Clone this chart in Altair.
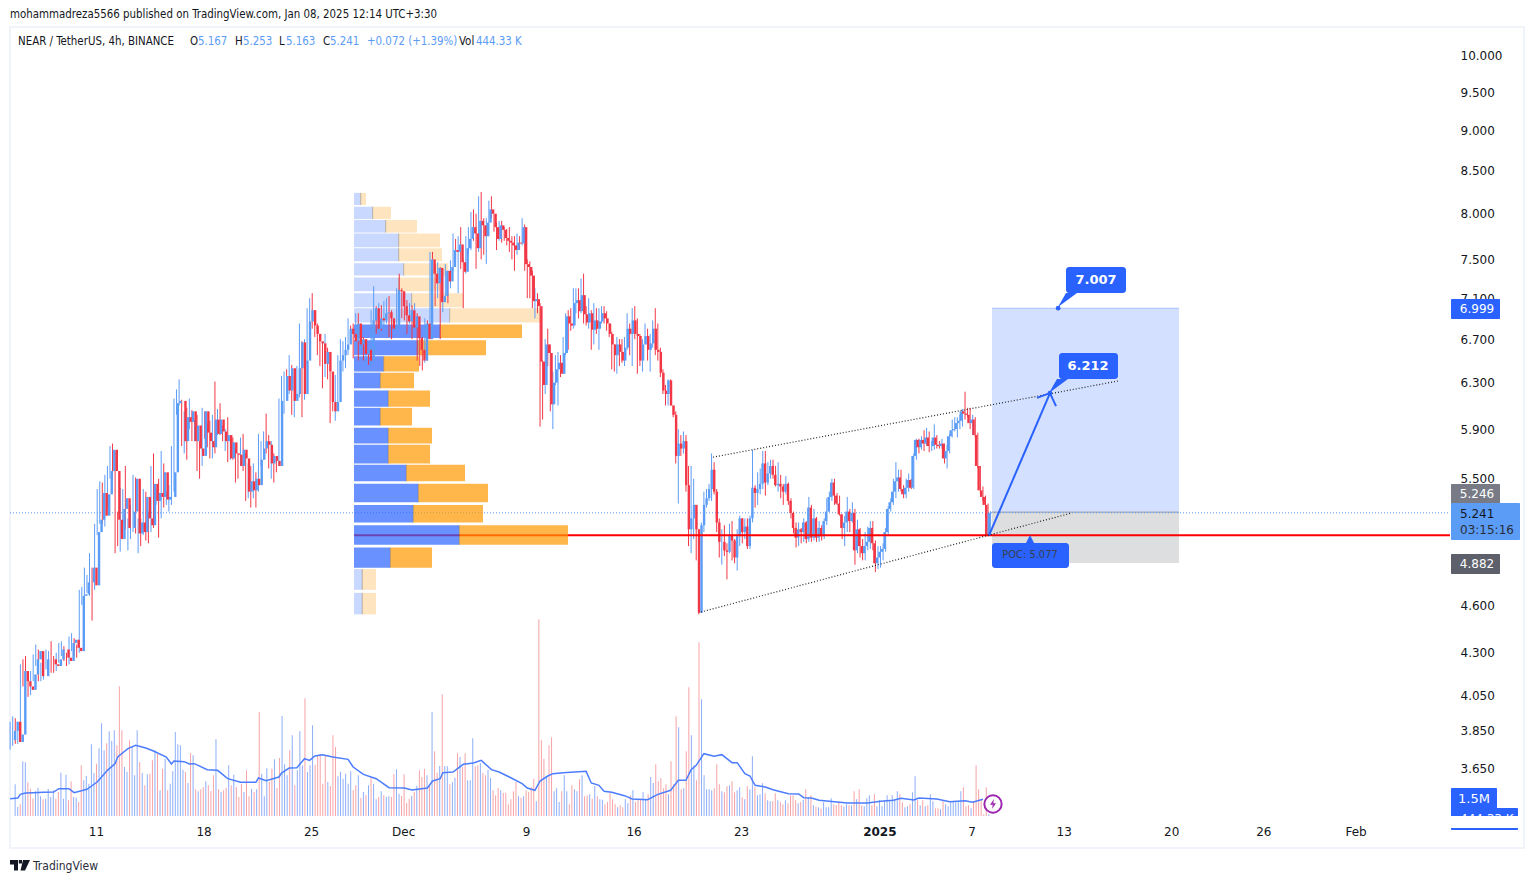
import altair as alt
import pandas as pd

FONT = "DejaVu Sans"
HEAD_FONT = "DejaVu Sans Condensed"
UP, DOWN = "#5b9cf6", "#f23645"

# (close, high, low) of each 4h candle
candles_nov_a = [
(3.85,3.90,3.75),(3.90,3.93,3.77),(3.79,3.92,3.78),(3.83,3.90,3.78),(4.19,4.23,3.82),(4.13,4.26,4.10),(4.10,4.28,4.05),(4.08,4.15,4.04),
(4.17,4.19,4.05),(4.26,4.29,4.13),(4.31,4.35,4.22),(4.16,4.32,4.13),(4.16,4.24,4.13),(4.26,4.29,4.14),(4.26,4.32,4.20),(4.26,4.31,4.22),
(4.23,4.37,4.18),(4.22,4.28,4.18),(4.26,4.30,4.19),(4.32,4.36,4.24),(4.32,4.37,4.28),(4.27,4.34,4.25),(4.25,4.30,4.22),(4.36,4.40,4.23),
(4.38,4.42,4.31),(4.33,4.39,4.28),(4.31,4.35,4.27),(4.66,4.70,4.30),(4.67,4.72,4.60),(4.75,4.85,4.65),(4.75,4.80,4.68),(4.85,4.95,4.66),
(4.73,4.85,4.50),(5.10,5.16,4.70),(5.19,5.42,5.08),(5.39,5.48,5.16),(5.22,5.47,5.16),(5.38,5.53,5.14),(5.56,5.60,5.28),(5.73,5.76,5.50),
(5.56,5.78,5.49),(5.19,5.72,4.95),(5.05,5.25,5.00),(5.27,5.43,4.96),(5.35,5.42,5.15),(5.13,5.60,5.12),(5.13,5.20,4.97),(5.25,5.30,5.05),
(5.50,5.53,5.10),(5.09,5.51,5.09),(5.17,5.20,4.95),(5.10,5.20,5.00),(5.36,5.42,5.08),(5.20,5.40,5.04),(5.15,5.25,5.02),(5.46,5.60,5.10),
(5.33,5.70,5.13),(5.39,5.42,5.30),(5.36,5.50,5.06),(5.55,5.72,5.20),(5.34,5.62,5.28),(5.36,5.40,5.30),(5.36,5.45,5.25),(5.55,5.76,5.30),
]
candles_nov_b = [
(6.12,6.16,5.40),(6.14,6.24,6.02),(6.14,6.33,6.10),(5.80,6.15,5.76),(6.00,6.05,5.70),(5.96,6.08,5.65),(6.05,6.16,5.90),(5.80,6.06,5.80),
(5.93,5.98,5.80),(5.74,6.02,5.56),(5.68,5.80,5.50),(6.05,6.08,5.60),(5.87,6.05,5.82),(5.80,5.95,5.75),(5.75,5.97,5.66),(5.98,6.02,5.66),(5.86,6.31,5.70),
(5.98,6.07,5.85),(5.88,6.12,5.85),(5.80,5.93,5.80),(5.85,5.90,5.72),(5.66,6.00,5.63),(5.79,5.85,5.65),(5.70,5.83,5.65),(5.69,5.74,5.47),
(5.60,5.70,5.50),(5.73,5.83,5.60),(5.66,5.86,5.56),(5.40,5.70,5.33),(5.48,5.62,5.35),(5.41,5.60,5.28),(5.50,5.62,5.35),(5.45,5.55,5.28),
(5.65,5.86,5.40),(5.74,5.80,5.60),(5.80,5.88,5.65),(5.77,6.03,5.70),(5.62,5.85,5.58),(5.68,5.80,5.50),(5.64,5.70,5.47),(5.60,5.65,5.55),
(6.14,6.16,5.60),(6.14,6.36,6.00),(6.36,6.40,6.03),(6.23,6.42,6.15),(6.43,6.55,6.20),(6.14,6.46,6.02),(6.20,6.36,6.00),(6.43,6.45,6.17),
(6.67,6.85,6.17),(6.20,6.68,6.00),(6.50,6.70,6.15),(6.87,7.00,6.47),(6.98,7.10,6.78),(6.83,7.15,6.80),(6.75,6.98,6.72),(6.68,6.85,6.55),
(6.66,6.75,6.45),(6.47,6.67,6.25),(6.58,6.75,6.35),(6.40,6.62,6.33),(6.13,6.40,5.95),(6.05,6.23,6.05),(6.13,6.37,5.97),(6.50,6.55,6.10),
(6.55,6.70,6.35),(6.60,6.68,6.40),(6.65,6.72,6.43),(6.80,6.90,6.55),(6.75,6.83,6.72),(6.68,6.85,6.52),(6.85,6.95,6.60),(6.65,6.95,6.50),
(6.70,6.75,6.60),
]
candles_dec_a = [
(6.56,6.72,6.50),(6.60,6.65,6.45),(6.50,6.60,6.46),(6.88,6.98,6.45),(7.00,7.22,6.85),(6.80,7.02,6.75),(6.90,7.05,6.78),(6.88,7.03,6.78),
(6.95,7.07,6.80),(6.96,7.10,6.85),(6.90,7.12,6.72),(6.80,6.98,6.70),(6.82,6.90,6.78),(7.18,7.20,6.80),(7.17,7.35,7.05),(7.02,7.20,6.90),
(6.93,7.12,6.88),(6.87,7.08,6.75),(6.98,7.05,6.85),(6.81,7.03,6.70),(6.92,7.05,6.80),(6.71,6.95,6.50),(6.60,6.74,6.45),(6.50,6.72,6.41),
(6.85,6.90,6.48),(6.70,6.88,6.50),(7.50,7.58,6.70),(7.35,7.58,7.25),(7.25,7.45,7.02),(7.41,7.47,7.10),(7.06,7.42,6.70),(7.12,7.40,6.96),
(7.38,7.45,7.09),(7.27,7.38,7.05),(7.42,7.49,7.20),(7.60,7.78,7.38),(7.58,7.72,7.50),(7.66,7.75,7.15),(7.47,7.85,7.40),(7.37,7.50,7.00),
(7.62,7.75,7.35),(7.72,7.85,7.55),(7.85,8.02,7.60),(7.78,8.05,7.70),(7.62,8.00,7.40),(7.92,8.20,7.58),(7.87,8.25,7.50),(7.75,7.95,7.55),
(7.90,7.95,7.45),(8.05,8.15,7.75),(8.00,8.20,7.95),(7.85,8.00,7.80),(7.72,7.90,7.60),(7.87,7.92,7.70),(7.82,7.92,7.68),(7.73,7.85,7.70),
(7.70,7.83,7.65),(7.68,7.85,7.58),(7.65,7.75,7.50),(7.60,7.75,7.38),(7.68,7.78,7.55),(7.67,7.75,7.60),(7.85,7.95,7.65),(7.45,7.88,7.38),
(7.42,7.50,7.10),(7.33,7.48,7.10),(7.07,7.38,7.00),(7.09,7.20,6.90),(7.02,7.15,6.95),(6.49,7.05,5.92),(6.28,6.50,5.98),(6.65,6.70,6.20),
(6.57,6.80,6.45),(6.11,6.65,6.05),(6.30,6.40,5.90),(6.42,6.55,6.28),(6.48,6.58,6.10),(6.38,6.55,6.35),(6.57,6.72,6.38),(6.92,6.95,6.55),
(6.85,6.98,6.60),(6.83,7.00,6.78),(7.05,7.20,6.80),(7.08,7.20,6.95),(6.97,7.20,6.90),(7.13,7.30,6.95),(6.94,7.35,6.85),(6.86,7.02,6.83),
(6.95,7.10,6.80),(6.79,6.98,6.60),(6.88,7.05,6.65),(6.80,7.00,6.75),(6.87,7.00,6.60),(6.95,7.02,6.85),(6.90,7.02,6.85),(6.85,6.97,6.78),
(6.75,6.85,6.72),(6.65,6.77,6.42),(6.55,6.65,6.40),(6.65,6.72,6.38),(6.58,6.70,6.45),(6.50,6.70,6.48),(6.62,6.72,6.45),(6.80,6.95,6.60),
(6.75,6.85,6.55),(6.88,7.00,6.45),(6.75,7.02,6.70),(6.73,6.90,6.38),(6.50,6.75,6.45),(6.65,6.70,6.40),(6.73,6.85,6.65),
(6.60,6.80,6.50),(6.66,6.75,6.40),(6.80,6.88,6.62),(6.60,7.00,6.55),(6.58,6.85,6.50),(6.39,6.62,6.35),(6.23,6.42,6.20),
(6.20,6.28,6.10),(6.32,6.33,6.10),(6.10,6.33,6.10),(6.02,6.10,6.00),(5.68,6.05,5.62),(5.78,5.90,5.31),(5.74,5.85,5.68),(5.80,5.88,5.70),
(5.45,5.85,5.40),(5.12,5.60,5.00),(5.20,5.60,4.95),(5.30,5.50,5.05),(5.12,5.30,4.90),(4.55,5.12,4.54),(5.15,5.17,4.55),(5.30,5.40,5.10),
(5.35,5.42,5.28),(5.42,5.46,5.33),(5.57,5.70,5.33),(5.40,5.63,5.38),(5.17,5.42,5.10),(5.03,5.20,4.92),(5.03,5.12,4.87),(4.97,5.15,4.93),
(4.96,5.02,4.77),(5.08,5.16,4.95),(5.04,5.18,4.90),(4.92,5.05,4.88),(5.07,5.12,4.83),(5.20,5.22,5.00),(5.10,5.20,5.02),(5.14,5.20,5.05),
(5.00,5.20,4.98),(5.20,5.22,4.98),(5.43,5.73,5.17),(5.39,5.45,5.28),(5.42,5.55,5.30),(5.46,5.58,5.38),(5.62,5.72,5.42),(5.47,5.72,5.37),
(5.54,5.63,5.45),(5.60,5.65,5.50),(5.53,5.65,5.50),(5.45,5.60,5.44),(5.46,5.63,5.40),(5.44,5.53,5.35),(5.40,5.46,5.30),(5.46,5.52,5.38),
(5.33,5.47,5.30),(5.24,5.35,5.20),(5.13,5.25,5.09),(5.06,5.17,4.99),(5.12,5.17,5.00),(5.10,5.13,5.02),(5.17,5.20,5.03),(5.05,5.18,5.02),
(5.28,5.36,5.03),(5.06,5.30,5.03),(5.20,5.27,5.04),(5.06,5.21,5.03),(5.13,5.18,5.03),(5.07,5.15,5.04),(5.18,5.20,5.05),(5.25,5.35,5.15),
(5.36,5.40,5.25),(5.47,5.50,5.33),(5.37,5.50,5.30),(5.31,5.39,5.30),(5.23,5.37,5.22),(5.13,5.23,5.05),(5.17,5.22,5.00),(5.25,5.36,5.10),
(5.18,5.27,5.10),(5.24,5.32,5.17),(4.97,5.27,4.87),(5.12,5.19,4.95),(5.00,5.13,4.92),(4.95,5.05,4.90),(5.00,5.10,4.90),(5.03,5.14,4.97),
(5.13,5.18,4.98),(5.02,5.18,4.97),(4.88,5.04,4.82),(4.92,5.00,4.84),(4.96,5.00,4.85),(4.98,5.02,4.90),(5.10,5.13,4.96),(5.27,5.29,5.08),
]
candles_jan = [
(5.32,5.35,5.25),(5.40,5.50,5.30),(5.48,5.63,5.35),(5.51,5.57,5.40),(5.42,5.57,5.40),(5.38,5.45,5.35),(5.43,5.50,5.35),(5.49,5.54,5.40),
(5.43,5.50,5.42),(5.68,5.70,5.42),(5.81,5.82,5.65),(5.75,5.82,5.70),(5.81,5.84,5.73),(5.78,5.89,5.72),(5.83,5.91,5.76),(5.76,5.88,5.71),
(5.76,5.80,5.72),(5.83,5.94,5.73),(5.77,5.85,5.74),(5.76,5.80,5.74),(5.78,5.82,5.74),(5.66,5.78,5.62),(5.72,5.77,5.58),(5.84,5.86,5.70),
(5.89,5.98,5.83),(5.90,6.00,5.88),(5.95,6.00,5.83),(5.97,6.02,5.90),(6.05,6.07,5.92),(6.03,6.22,5.98),(6.02,6.08,6.00),(5.95,6.08,5.90),
(5.98,6.02,5.85),(5.85,6.00,5.83),(5.60,5.87,5.58),(5.41,5.60,5.38),(5.36,5.44,5.33),(5.30,5.37,5.20),(5.08,5.31,5.07),(5.241,5.253,5.163),
]
first_open = 3.80

# traded volume of each candle, in units of 29.4k coins
volume_nov = [95,27,35,164,161,101,82,52,74,85,59,50,52,82,57,77,52,72,130,52,124,47,104,57,55,42,152,107,120,97,215,129,157,203,278,197,218,254,225,257,212,389,257,147,133,227,210,122,257,162,130,92,125,127,167,197,187,77,142,172,77,97,134,252,215,212,139,132,99,189,182,80,74,80,87,104,92,74,122,230,80,72,77,85,152,92,124,87,57,97,72,137,59,82,72,80,312,127,59,143,102,142,170,84,174,300,155,122,197,242,92,137,254,152,353,132,152,272,154,180,187,97,180,102,90,242,207,119,133,112,127,97,134,77,92,122,54,72,62,92,117,97,50,57,74,62,57,59,57,126,140,67,60,125,39,52,60,72,90,137,117,142,122,92,312,194,130,150,365,150,149,95,101,115,188,177,147,188,107,107,233,149,152,159,129,122,139,114,77,62,84]
volume_dec = [77,70,70,35,50,74,102,59,55,59,77,72,87,112,44,590,227,172,119,212,236,74,83,42,74,122,74,35,92,80,74,110,122,59,62,65,52,90,59,50,49,35,42,69,50,35,26,32,26,50,38,62,77,42,50,52,71,52,65,117,99,155,104,113,83,95,65,164,95,299,266,80,83,194,386,242,152,107,521,350,122,80,80,77,83,155,95,74,71,89,92,104,71,77,86,56,50,89,80,179,86,62,65,98,68,47,44,44,68,47,42,35,47,38,62,62,47,38,42,49,80,56,62,32,28,26,22,41,26,26,53,35,32,42,32,28,35,32,32,74,50,80,32,29,53,62,32,65,29,47,29,44,62,44,62,47,74,65,41,26,29,35,71,119,47,32,47,29,32,65,44,23,23,20,47,35,29,41,44,41,44,74,86,29,32,23,44,152,80,47,5,86,5]
VOL_UNIT_M = 0.0294

# moving average of volume: candle number and level in the same units
ma_bar = [0,3,4,6,9,13,17,19,23,25,30,34,38,41,42,46,49,53,56,61,63,64,68,70,72,77,81,85,90,96,97,100,105,106,109,112,115,117,119,122,126,132,134,138,143,148,154,157,163,165,168,169,173,177,181,184,188,191,195,200,202,205,207,210,212,216,225,227,230,232,235,240,243,249,253,258,261,264,266,268,271,275,278,282,284,287,289,291,295,298,304,308,310,313,316,322,327,335,340,345,348,353,355,362,367,373,376,380]
ma_level = [52,54,65,69,70,71,72,82,82,70,80,102,137,157,177,202,212,204,195,177,156,165,163,156,157,139,137,112,101,101,114,106,117,129,144,145,172,167,180,184,177,170,147,125,112,85,84,78,84,105,112,130,132,155,159,167,139,132,117,97,84,77,105,120,127,130,134,99,92,74,71,61,51,49,65,77,107,107,139,152,187,179,184,160,160,127,120,92,87,79,67,66,55,54,47,43,39,39,44,47,53,48,54,51,43,46,41,50]

# volume profile rows
profile_low = [8.10,7.94,7.79,7.63,7.48,7.33,7.17,7.01,6.86,6.71,6.55,6.40,6.25,6.09,5.93,5.78,5.62,5.48,5.32,5.17,5.01,4.85,4.70,4.54]
profile_high = [8.24,8.08,7.93,7.78,7.62,7.46,7.31,7.15,7.00,6.84,6.69,6.54,6.39,6.23,6.08,5.91,5.77,5.61,5.46,5.30,5.15,4.99,4.84,4.68]
profile_up = [6.7,18.7,31.7,44.7,44.7,49.7,44.7,57.7,95.7,86,64.3,29.7,26.3,34.3,26.3,34.3,34.3,52.3,64.3,59.3,105.3,36.3,8.3,8.3]
profile_down = [5.3,18.3,31.3,41.3,43.3,44.6,41.3,51.3,92,82,67.7,35.3,33.7,41.7,31.7,43.7,41.7,58.7,69.7,69.7,108.7,41.7,13.7,13.7]
profile_alpha = [.25,.25,.25,.25,.25,.25,.25,.25,.25,.7,.7,.7,.7,.7,.7,.7,.7,.7,.7,.7,.7,.7,.25,.25]

price_ticks = [10.0,9.5,9.0,8.5,8.0,7.5,7.1,6.7,6.3,5.9,5.5,4.6,4.3,4.05,3.85,3.65]
day_ticks = [0,7,14,20,28,35,42,51,57,63,70,76,82]

POC = 5.077
LAST = 5.241
TARGET, ENTRY, STOP = 6.999, 5.246, 4.882
LONG_START, LONG_END = 58.33, 70.51
FIRST_DAY = -5.59

candles = candles_nov_a + candles_nov_b + candles_dec_a + candles_jan
volumes = volume_nov + volume_dec
rows = []
prev = first_open
for i, (c, h, l) in enumerate(candles):
    rows.append(dict(day=FIRST_DAY + i / 6, open=prev, close=c, high=max(h, c, prev), low=min(l, c, prev),
                     vol=(volumes[i] if i < len(volumes) else 0) * VOL_UNIT_M,
                     col=UP if c >= prev else DOWN, vcol="#8daef8" if c >= prev else "#f7a3a6"))
    prev = c
df = pd.DataFrame(rows)
ma_df = pd.DataFrame(dict(day=[FIRST_DAY + b / 6 for b in ma_bar], v=[m * VOL_UNIT_M for m in ma_level]))
pf = pd.DataFrame(dict(low=profile_low, high=profile_high, up=profile_up, down=profile_down, alpha=profile_alpha))
pf["total"] = pf.up + pf.down
pf["zero"] = 0.0

xs = alt.Scale(domain=[-5.599, 88.151], nice=False, zero=False)
ys = alt.Scale(type="log", domain=[3.4134, 10.4186], nice=False)
vs = alt.Scale(domain=[0, 69.6], nice=False, zero=False)
ps = alt.Scale(domain=[-344, 1096], nice=False, zero=False)

def X(f): return alt.X(f, type="quantitative", scale=xs, axis=None)
def Y(f): return alt.Y(f, type="quantitative", scale=ys, axis=None)
ONE = pd.DataFrame({"a": [0]})
def PX(x): return alt.value(x - 10)
def PY(y): return alt.value(y - 27)

def seg(d1, p1, d2, p2, color, width=1, dash=None):
    kw = dict(color=color, strokeWidth=width)
    if dash: kw["strokeDash"] = dash
    return alt.Chart(pd.DataFrame(dict(a=[d1], b=[d2], p=[p1], q=[p2]))).mark_rule(**kw).encode(
        x=X("a"), x2="b", y=Y("p"), y2="q")

def box(d1, d2, p1, p2, color):
    return alt.Chart(pd.DataFrame(dict(a=[d1], b=[d2], p=[p1], q=[p2]))).mark_rect(color=color).encode(
        x=X("a"), x2="b", y=Y("p"), y2="q")

def chrome(x1, x2, y1, y2, color, radius=0):
    return alt.Chart(ONE).mark_rect(color=color, cornerRadius=radius).encode(
        x=PX(x1), x2=PX(x2), y=PY(y1), y2=PY(y2))

def txt(s, x, y, color="#131722", size=12, weight="normal", align="left", font=FONT):
    return alt.Chart(ONE).mark_text(text=s, color=color, fontSize=size, fontWeight=weight, align=align,
                                    baseline="middle", font=font).encode(x=PX(x), y=PY(y))

def glyph(path, x, y, size, color):
    return alt.Chart(ONE).mark_point(shape=path, size=size, filled=True, color=color, opacity=1, strokeWidth=0).encode(
        x=PX(x), y=PY(y))

layers = []
# frame
layers.append(alt.Chart(ONE).mark_rect(fillOpacity=0, stroke="#f0f3fa", strokeWidth=2).encode(
    x=PX(10), x2=PX(1524), y=PY(27), y2=PY(848)))
# position boxes
layers += [box(LONG_START, LONG_END, ENTRY, TARGET, "#d4e0ff"), box(LONG_START, LONG_END, STOP, ENTRY, "#dddee0"),
           seg(LONG_START, TARGET, LONG_END, TARGET, "#a9c1ff"), seg(LONG_START, ENTRY, LONG_END, ENTRY, "#9598a1")]
# last price
layers.append(seg(-5.599, LAST, 88.151, LAST, UP, 1, [1, 2]))
# POC below the profile
layers.append(seg(16.8, POC, 30.73, POC, "#ff0000", 2))
# profile
layers.append(alt.Chart(pf).mark_rect(color="#2962ff").encode(
    x=alt.X("zero", type="quantitative", scale=ps, axis=None), x2="up",
    y=Y("low"), y2="high", opacity=alt.Opacity("alpha", type="quantitative", scale=None)))
layers.append(alt.Chart(pf).mark_rect(color="#ff9800").encode(
    x=alt.X("up", type="quantitative", scale=ps, axis=None), x2="total",
    y=Y("low"), y2="high", opacity=alt.Opacity("alpha", type="quantitative", scale=None)))
layers.append(alt.Chart(pf).mark_rule(color="#6b5a40", strokeWidth=1, opacity=.35).encode(
    x=alt.X("up", type="quantitative", scale=ps, axis=None), y=Y("low"), y2="high"))
# volume
layers.append(alt.Chart(df).mark_bar(size=1, orient="vertical").encode(
    x=X("day"), y=alt.Y("vol", type="quantitative", scale=vs, axis=None),
    color=alt.Color("vcol", type="nominal", scale=None)))
layers.append(alt.Chart(ma_df).mark_line(color="#4d7dff", strokeWidth=1.5).encode(
    x=X("day"), y=alt.Y("v", type="quantitative", scale=vs, axis=None)))
# candles, these carry the axes
axis_x = alt.Axis(values=day_ticks, domain=False, ticks=False, grid=False, title=None, labelPadding=10,
                  labelFont=FONT, labelFontSize=12, labelColor="#131722", labelOverlap=False,
                  labelFontWeight=alt.ExprRef("datum.value == 51 ? 'bold' : 'normal'"),
                  labelExpr="{0:'11',7:'18',14:'25',20:'Dec',28:'9',35:'16',42:'23',51:'2025',57:'7',63:'13',70:'20',76:'26',82:'Feb'}[datum.value]")
axis_y = alt.Axis(values=price_ticks, orient="right", domain=False, ticks=False, grid=False, title=None,
                  format=".3f", labelPadding=10, labelFont=FONT, labelFontSize=12, labelColor="#131722",
                  labelOverlap=False, labelFlush=False)
layers.append(alt.Chart(df).mark_rule(strokeWidth=1).encode(
    x=alt.X("day", type="quantitative", scale=xs, axis=axis_x),
    y=alt.Y("low", type="quantitative", scale=ys, axis=axis_y), y2="high",
    color=alt.Color("col", type="nominal", scale=None)))
layers.append(alt.Chart(df).mark_bar(size=2.4, orient="vertical").encode(
    x=X("day"), y=Y("open"), y2="close", color=alt.Color("col", type="nominal", scale=None)))
# POC above the candles
layers.append(seg(30.73, POC, 88.151, POC, "#ff0000", 2))
# channel
layers += [seg(40.17, 5.67, 66.54, 6.315, "#222222", 1.2, [1, 2]), seg(39.39, 4.555, 63.54, 5.24, "#222222", 1.2, [1, 2])]
# arrow
layers += [seg(58.14, POC, 62.11, 6.208, "#2962ff", 2), seg(61.26, 6.166, 62.11, 6.208, "#2962ff", 2),
           seg(62.5, 6.095, 62.11, 6.208, "#2962ff", 2)]
# callouts
layers += [chrome(1066, 1126, 267, 293, "#2962ff", 3), chrome(1059, 1118, 353, 379, "#2962ff", 3),
           chrome(992, 1069, 543, 568, "#2962ff", 3),
           glyph("M-0.9,0.7 L-0.1,-0.7 L1.0,-0.7 Z", 1067, 300, 400, "#2962ff"),
           glyph("M-0.9,0.7 L-0.1,-0.7 L1.0,-0.7 Z", 1058, 386, 400, "#2962ff"),
           glyph("M-1,1 L0,-1 L1,1 Z", 1030, 540, 100, "#2962ff")]
layers.append(alt.Chart(pd.DataFrame(dict(d=[62.64, 62.11], p=[7.0, 6.208]))).mark_point(
    shape="circle", size=22, filled=True, color="#2962ff", opacity=1).encode(x=X("d"), y=Y("p")))
layers += [txt("7.007", 1096, 280, "white", 13, "bold", "center"), txt("6.212", 1088, 366, "white", 13, "bold", "center"),
           txt("POC: 5.077", 1030, 555, "#3a3f4d", 11, "normal", "center", HEAD_FONT)]
# price tags
layers += [chrome(1451, 1500, 299, 319, "#2962ff", 1), txt("6.999", 1477, 309, "white", 12, "normal", "center"),
           chrome(1451, 1500, 484, 504, "#787b86", 1), txt("5.246", 1477, 494, "white", 12, "normal", "center"),
           chrome(1451, 1520, 503, 540, UP, 1), txt("5.241", 1460, 514, "#131722", 12), txt("03:15:16", 1460, 530, "#2a2e39", 12),
           chrome(1451, 1500, 554, 574, "#5d606b", 1), txt("4.882", 1477, 564, "white", 12, "normal", "center"),
           chrome(1451, 1518, 808, 830, "#2962ff", 1), txt("444.33 K", 1460, 819, "white", 12),
           chrome(1451, 1522, 816, 828, "white"),
           chrome(1451, 1497, 788, 810, "#2962ff", 1), txt("1.5M", 1474, 799, "white", 13, "normal", "center")]
# purple badge
layers.append(alt.Chart(ONE).mark_point(shape="circle", size=300, filled=False, fill="white", color="#9c27b0", strokeWidth=2, opacity=1).encode(
    x=PX(993), y=PY(804)))
layers.append(glyph("M0.2,-1 L-0.6,0.15 L-0.05,0.15 L-0.2,1 L0.6,-0.15 L0.05,-0.15 Z", 993, 804, 100, "#9c27b0"))
# header and footer
layers += [txt("mohammadreza5566 published on TradingView.com, Jan 08, 2025 12:14 UTC+3:30", 10, 15, "#131722", 11.4, font=HEAD_FONT),
           txt("NEAR / TetherUS, 4h, BINANCE", 18, 42, "#131722", 11.4, font=HEAD_FONT)]
for lab, xl, val, xv in [("O", 190, "5.167", 198), ("H", 235, "5.253", 243), ("L", 279, "5.163", 286), ("C", 323, "5.241", 330), ("Vol", 459, "444.33 K", 476)]:
    layers += [txt(lab, xl, 42, "#131722", 11.4, font=HEAD_FONT), txt(val, xv, 42, UP, 11.4, font=HEAD_FONT)]
layers.append(txt("+0.072 (+1.39%)", 367, 42, UP, 11.4, font=HEAD_FONT))
layers += [glyph("M-1,-0.5 H-0.2 V0.55 H-0.6 V-0.05 H-1 Z M0.3,-0.5 H1 L0.5,0.55 H0.05 Z M-0.12,-0.5 H0.2 V-0.15 H-0.12 Z", 20, 865, 400, "#131722"),
           txt("TradingView", 33, 866, "#2a2e39", 12, font=HEAD_FONT)]

chart = alt.layer(*layers).resolve_scale(x="independent", y="independent").properties(
    width=1440, height=789,
    padding={"left": 2, "top": 19, "right": 75, "bottom": 58},
    autosize=alt.AutoSizeParams(type="none"),
    background="white",
).configure_view(stroke=None)

chart.save("out.html", embed_options={"renderer": "svg", "actions": False})
